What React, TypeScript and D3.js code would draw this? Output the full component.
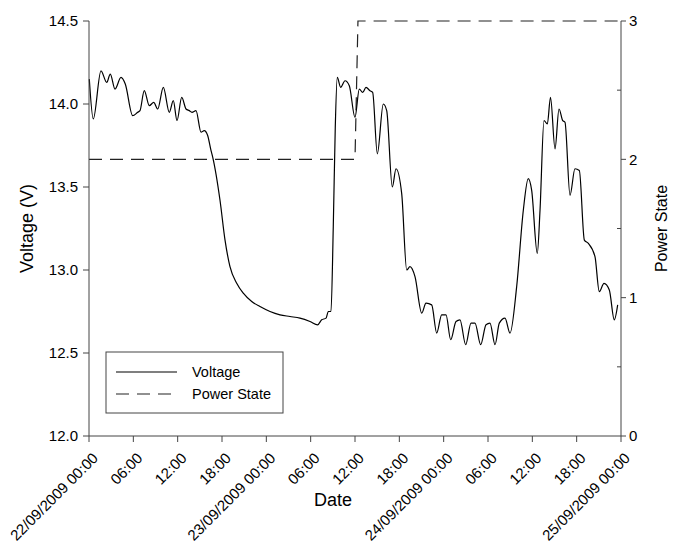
import React from "react";
import * as d3 from "d3";

// voltage trace, hours since 22/09/2009 00:00
const voltageHours = [
  0.04, 0.58, 1.62, 2.4, 2.88, 3.52, 4.33, 4.91, 5.91, 6.59, 6.9, 7.48, 8.16, 8.76, 9.3, 10.06,
  10.87, 11.41, 11.91, 12.55, 13.13, 13.57, 13.94, 14.48, 15.16, 15.6, 16.06, 16.51, 16.74, 17.73,
  18.41, 19.08, 19.99, 20.88, 22.02, 23.14, 24.5, 25.85, 27.2, 28.55, 29.91, 30.95, 31.49, 32.08,
  32.39, 32.75, 33.06, 33.33, 33.6, 34.06, 34.65, 35.23, 36.0, 36.58, 37.04, 37.49, 38.03, 38.39,
  39.02, 39.83, 40.29, 41.05, 41.55, 42.32, 43.0, 43.44, 44.12, 45.03, 45.61, 46.38, 47.06, 47.73,
  48.32, 48.95, 49.67, 50.21, 50.98, 51.7, 52.24, 53.01, 53.73, 54.27, 54.95, 55.53, 56.3, 56.98,
  57.88, 58.78, 59.45, 59.91, 60.67, 61.04, 61.58, 62.03, 62.46, 63.07, 63.61, 64.11, 64.42, 65.1,
  65.77, 66.36, 67.04, 67.58, 68.48, 69.06, 69.7, 70.42, 71.09, 71.55,
];
const voltageValues = [
  14.15, 13.91, 14.2, 14.13, 14.18, 14.09, 14.16, 14.12, 13.93, 13.95, 13.96, 14.08, 13.99, 14.01, 13.97, 14.1,
  13.95, 14.02, 13.9, 14.04, 13.97, 13.96, 13.95, 13.96, 13.83, 13.84, 13.81, 13.72, 13.68, 13.42,
  13.18, 13.02, 12.92, 12.86, 12.81, 12.78, 12.75, 12.73, 12.72, 12.71, 12.69, 12.67, 12.7, 12.71,
  12.75, 12.75, 13.26, 13.86, 14.16, 14.1, 14.14, 14.11, 13.92, 14.09, 14.07, 14.1, 14.08, 14.07,
  13.7, 14.0, 13.96, 13.5, 13.61, 13.46, 13.0, 13.02, 12.96, 12.74, 12.8, 12.79, 12.62, 12.73,
  12.73, 12.58, 12.69, 12.7, 12.55, 12.68, 12.68, 12.55, 12.67, 12.68, 12.55, 12.68, 12.71, 12.62,
  12.9, 13.36, 13.55, 13.48, 13.1, 13.36, 13.9, 13.88, 14.04, 13.73, 13.97, 13.9, 13.89, 13.45,
  13.61, 13.6, 13.18, 13.16, 13.08, 12.87, 12.92, 12.88, 12.7, 12.79,
];

const stateHours = [0, 36, 36.4, 72];
const stateValues = [2, 2, 3, 3];

const xTickLabels = [
  "22/09/2009 00:00", "06:00", "12:00", "18:00",
  "23/09/2009 00:00", "06:00", "12:00", "18:00",
  "24/09/2009 00:00", "06:00", "12:00", "18:00",
  "25/09/2009 00:00",
];
const voltageTicks = [12.0, 12.5, 13.0, 13.5, 14.0, 14.5];
const stateTicks = [0, 1, 2, 3];
const stateMinorTicks = [0.5, 1.5, 2.5];

const width = 676;
const height = 541;
const margin = { top: 21, right: 55, bottom: 105, left: 89 };
const font = "'Liberation Sans', Arial, sans-serif";
const axisColor = "#444";

const start = new Date(2009, 8, 22, 0, 0);
const end = new Date(2009, 8, 25, 0, 0);
const toDate = (h: number) => new Date(start.getTime() + h * 3600 * 1000);

export default function App() {
  const x = d3.scaleTime().domain([start, end]).range([margin.left, width - margin.right]);
  const yV = d3.scaleLinear().domain([12, 14.5]).range([height - margin.bottom, margin.top]);
  const yP = d3.scaleLinear().domain([0, 3]).range([height - margin.bottom, margin.top]);
  const x0 = margin.left;
  const x1 = width - margin.right;
  const yBase = height - margin.bottom;

  const voltagePts = voltageHours.map((h, i) => [toDate(h), voltageValues[i]] as [Date, number]);
  const statePts = stateHours.map((h, i) => [toDate(h), stateValues[i]] as [Date, number]);

  const vLine = d3
    .line<[Date, number]>()
    .x((d) => x(d[0]))
    .y((d) => yV(d[1]))
    .curve(d3.curveMonotoneX);
  const pLine = d3
    .line<[Date, number]>()
    .x((d) => x(d[0]))
    .y((d) => yP(d[1]));

  const xTicks = d3.timeHour.every(6)!.range(start, new Date(end.getTime() + 1));

  return (
    <svg
      width={width}
      height={height}
      style={{ position: "absolute", left: 0, top: 0, background: "white" }}
      fontFamily={font}
    >
      {/* data */}
      <path d={pLine(statePts) || ""} fill="none" stroke="#222" strokeWidth={1.2} strokeDasharray="13,8" />
      <path d={vLine(voltagePts) || ""} fill="none" stroke="#000" strokeWidth={1.2} />

      {/* left axis */}
      <line x1={x0} x2={x0} y1={margin.top} y2={yBase} stroke={axisColor} />
      {voltageTicks.map((t) => (
        <g key={t}>
          <line x1={x0 - 6} x2={x0} y1={yV(t)} y2={yV(t)} stroke={axisColor} />
          <text x={x0 - 11} y={yV(t)} dy="0.36em" textAnchor="end" fontSize={15} fill="#000">
            {t.toFixed(1)}
          </text>
        </g>
      ))}
      <text
        transform={`translate(33,${(margin.top + yBase) / 2}) rotate(-90)`}
        textAnchor="middle"
        fontSize={18}
        fill="#000"
      >
        Voltage (V)
      </text>

      {/* right axis */}
      <line x1={x1} x2={x1} y1={margin.top} y2={yBase} stroke={axisColor} />
      {stateTicks.map((t) => (
        <g key={t}>
          <line x1={x1} x2={x1 + 5} y1={yP(t)} y2={yP(t)} stroke={axisColor} />
          <text x={x1 + 8} y={yP(t)} dy="0.36em" textAnchor="start" fontSize={15} fill="#000">
            {t}
          </text>
        </g>
      ))}
      {stateMinorTicks.map((t) => (
        <line key={t} x1={x1 - 4} x2={x1} y1={yP(t)} y2={yP(t)} stroke={axisColor} />
      ))}
      <text
        transform={`translate(667,${(margin.top + yBase) / 2}) rotate(-90)`}
        textAnchor="middle"
        fontSize={16}
        fill="#000"
      >
        Power State
      </text>

      {/* bottom axis */}
      <line x1={x0} x2={x1} y1={yBase} y2={yBase} stroke={axisColor} />
      {xTicks.map((t, i) => (
        <g key={i}>
          <line x1={x(t)} x2={x(t)} y1={yBase} y2={yBase + 6} stroke={axisColor} />
          <text
            transform={`translate(${x(t) + 10},${yBase + 23}) rotate(-45)`}
            textAnchor="end"
            fontSize={15}
            fill="#000"
          >
            {xTickLabels[i]}
          </text>
        </g>
      ))}
      <text x={333} y={506} textAnchor="middle" fontSize={18} fill="#000">
        Date
      </text>

      {/* legend */}
      <rect x={106} y={352} width={177} height={61} fill="white" stroke={axisColor} />
      <line x1={116} x2={177} y1={372} y2={372} stroke="#000" strokeWidth={1.2} />
      <text x={192} y={372} dy="0.36em" fontSize={14.5} fill="#000">
        Voltage
      </text>
      <line x1={116} x2={172} y1={394} y2={394} stroke="#222" strokeWidth={1.2} strokeDasharray="13,8" />
      <text x={192} y={394} dy="0.36em" fontSize={14.5} fill="#000">
        Power State
      </text>
    </svg>
  );
}
